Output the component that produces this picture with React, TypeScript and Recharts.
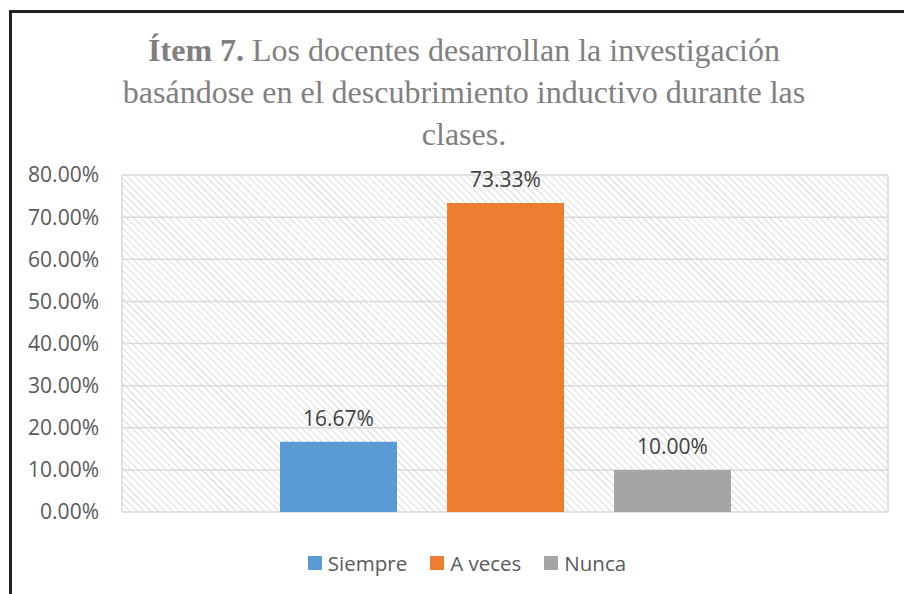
import React from 'react';
import { BarChart, Bar, XAxis, YAxis, CartesianGrid, LabelList } from 'recharts';

const categories = [''];
const seriesNames = ['Siempre', 'A veces', 'Nunca'];
const seriesValues = [16.67, 73.33, 10.0];
const seriesColors = ['#5B9BD5', '#ED7D31', '#A5A5A5'];
const yTicks = [0, 10, 20, 30, 40, 50, 60, 70, 80];

const data = categories.map((c) => {
  const row: Record<string, any> = { name: c };
  seriesNames.forEach((s, i) => {
    row[s] = seriesValues[i];
  });
  return row;
});

const fmt = (v: any) => `${Number(v).toFixed(2)}%`;
const font = '"Open Sans", sans-serif';

export default function App() {
  return (
    <div style={{ position: 'absolute', left: 0, top: 0, width: 904, height: 594, background: '#fff', overflow: 'hidden' }}>
      <div style={{ position: 'absolute', left: 9, top: 10, width: 3, height: 584, background: '#222' }} />
      <div style={{ position: 'absolute', left: 9, top: 10, width: 895, height: 3, background: '#222' }} />
      <div
        style={{
          position: 'absolute',
          left: 10,
          top: 29,
          width: 908,
          textAlign: 'center',
          fontFamily: '"Liberation Serif", "Times New Roman", serif',
          fontSize: 32,
          lineHeight: '42px',
          color: '#808080',
          whiteSpace: 'nowrap',
        }}
      >
        <b>Ítem 7.</b> Los docentes desarrollan la investigación
        <br />
        basándose en el descubrimiento inductivo durante las
        <br />
        clases.
      </div>
      <div style={{ position: 'absolute', left: 0, top: 0 }}>
        <BarChart
          width={904}
          height={594}
          data={data}
          margin={{ top: 175, right: 16, bottom: 82, left: 0 }}
          barSize={117}
          barGap={50}
        >
          <defs>
            <pattern id="hatch" width="5" height="5" patternUnits="userSpaceOnUse" patternTransform="rotate(-45)">
              <rect width="5" height="5" fill="#ffffff" />
              <line x1="0" y1="0" x2="0" y2="5" stroke="#d2d2d2" strokeWidth="1.6" />
            </pattern>
          </defs>
          <CartesianGrid
            stroke="#d9d9d9"
            strokeWidth={1.5}
            fill="url(#hatch)"
            fillOpacity={1}
            verticalPoints={[122, 888]}
          />
          <XAxis dataKey="name" hide />
          <YAxis
            width={122}
            domain={[0, 80]}
            ticks={yTicks}
            tickFormatter={fmt}
            axisLine={false}
            tickLine={false}
            tickSize={0}
            tickMargin={23}
            tick={{ fill: '#595959', fontSize: 21, fontFamily: font }}
          />
          {seriesNames.map((s, i) => (
            <Bar key={s} dataKey={s} name={s} fill={seriesColors[i]} isAnimationActive={false}>
              <LabelList
                dataKey={s}
                position="top"
                offset={16}
                formatter={fmt}
                style={{ fill: '#404040', fontSize: 21, fontFamily: font }}
              />
            </Bar>
          ))}
        </BarChart>
      </div>
      <div
        style={{
          position: 'absolute',
          left: 15,
          top: 550,
          width: 904,
          display: 'flex',
          justifyContent: 'center',
          alignItems: 'center',
          fontFamily: font,
          fontSize: 20.5,
          lineHeight: '26px',
          color: '#595959',
        }}
      >
        {seriesNames.map((n, i) => (
          <div key={n} style={{ display: 'flex', alignItems: 'center', marginRight: i < seriesNames.length - 1 ? 23 : 0 }}>
            <span style={{ display: 'inline-block', width: 14, height: 14, background: seriesColors[i], marginRight: 6 }} />
            <span>{n}</span>
          </div>
        ))}
      </div>
    </div>
  );
}
